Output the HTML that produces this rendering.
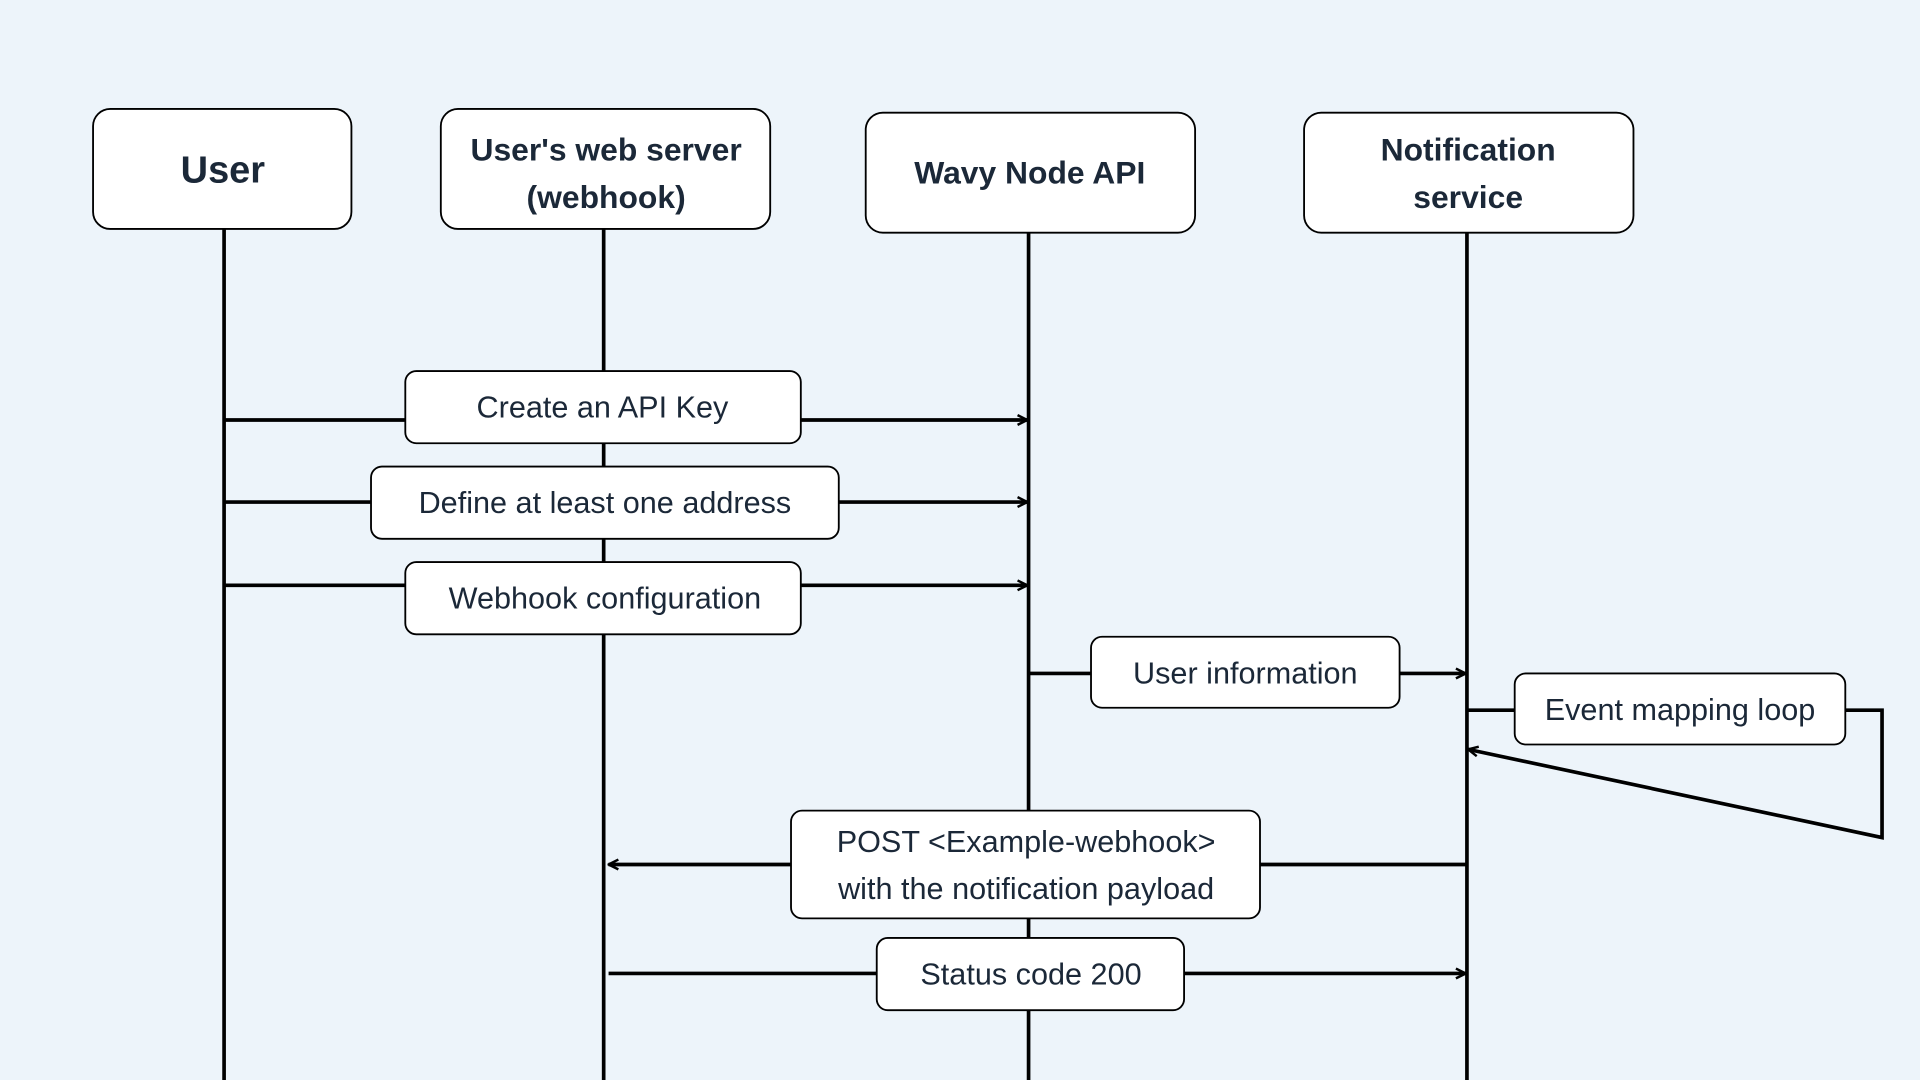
<!DOCTYPE html>
<html><head><meta charset="utf-8"><style>
html,body{margin:0;padding:0;background:#edf4fa;}
svg{display:block;}
text{font-family:"Liberation Sans",sans-serif;fill:#1b2838;}
</style></head><body>
<svg width="1920" height="1080" viewBox="0 0 1568 882" xmlns="http://www.w3.org/2000/svg">
<defs>
<marker id="a" viewBox="0 0 10 10" refX="9" refY="5" markerWidth="10" markerHeight="10" markerUnits="userSpaceOnUse" orient="auto">
<path d="M1,1 L9,5 L1,9" fill="none" stroke="#000" stroke-width="2"/>
</marker>
</defs>
<rect width="1568" height="882" fill="#edf4fa"/>
<g stroke="#000" stroke-width="3">
<line x1="183" y1="187" x2="183" y2="882"/>
<line x1="493" y1="187" x2="493" y2="882"/>
<line x1="840" y1="190" x2="840" y2="882"/>
<line x1="1198" y1="190" x2="1198" y2="882"/>
</g>
<g fill="#fff" stroke="#000" stroke-width="1.5">
<rect x="76" y="89" width="211" height="98" rx="14"/>
<rect x="360" y="89" width="269" height="98" rx="14"/>
<rect x="707" y="92" width="269" height="98" rx="14"/>
<rect x="1065" y="92" width="269" height="98" rx="14"/>
</g>
<g font-weight="bold" text-anchor="middle" font-size="26">
<text x="182" y="149" font-size="31">User</text>
<text x="495" y="131">User's web server</text>
<text x="495" y="170">(webhook)</text>
<text x="841" y="150">Wavy Node API</text>
<text x="1199" y="131">Notification</text>
<text x="1199" y="170">service</text>
</g>
<g stroke="#000" stroke-width="3" fill="none">
<line x1="183" y1="343" x2="839" y2="343" marker-end="url(#a)"/>
<line x1="183" y1="410" x2="839" y2="410" marker-end="url(#a)"/>
<line x1="183" y1="478" x2="839" y2="478" marker-end="url(#a)"/>
<line x1="840" y1="550" x2="1197" y2="550" marker-end="url(#a)"/>
<polyline points="1198,580 1537,580 1537,684 1199,612" marker-end="url(#a)"/>
<line x1="1198" y1="706" x2="497" y2="706" marker-end="url(#a)"/>
<line x1="497" y1="795" x2="1197" y2="795" marker-end="url(#a)"/>
</g>
<g fill="#fff" stroke="#000" stroke-width="1.5">
<rect x="331" y="303" width="323" height="59" rx="9"/>
<rect x="303" y="381" width="382" height="59" rx="9"/>
<rect x="331" y="459" width="323" height="59" rx="9"/>
<rect x="891" y="520" width="252" height="58" rx="9"/>
<rect x="1237" y="550" width="270" height="58" rx="9"/>
<rect x="646" y="662" width="383" height="88" rx="9"/>
<rect x="716" y="766" width="251" height="59" rx="9"/>
</g>
<g text-anchor="middle" font-size="25">
<text x="492" y="341">Create an API Key</text>
<text x="494" y="419">Define at least one address</text>
<text x="494" y="497">Webhook configuration</text>
<text x="1017" y="558">User information</text>
<text x="1372" y="588">Event mapping loop</text>
<text x="838" y="696">POST &lt;Example-webhook&gt;</text>
<text x="838" y="734">with the notification payload</text>
<text x="842" y="804">Status code 200</text>
</g>
</svg>
</body></html>
